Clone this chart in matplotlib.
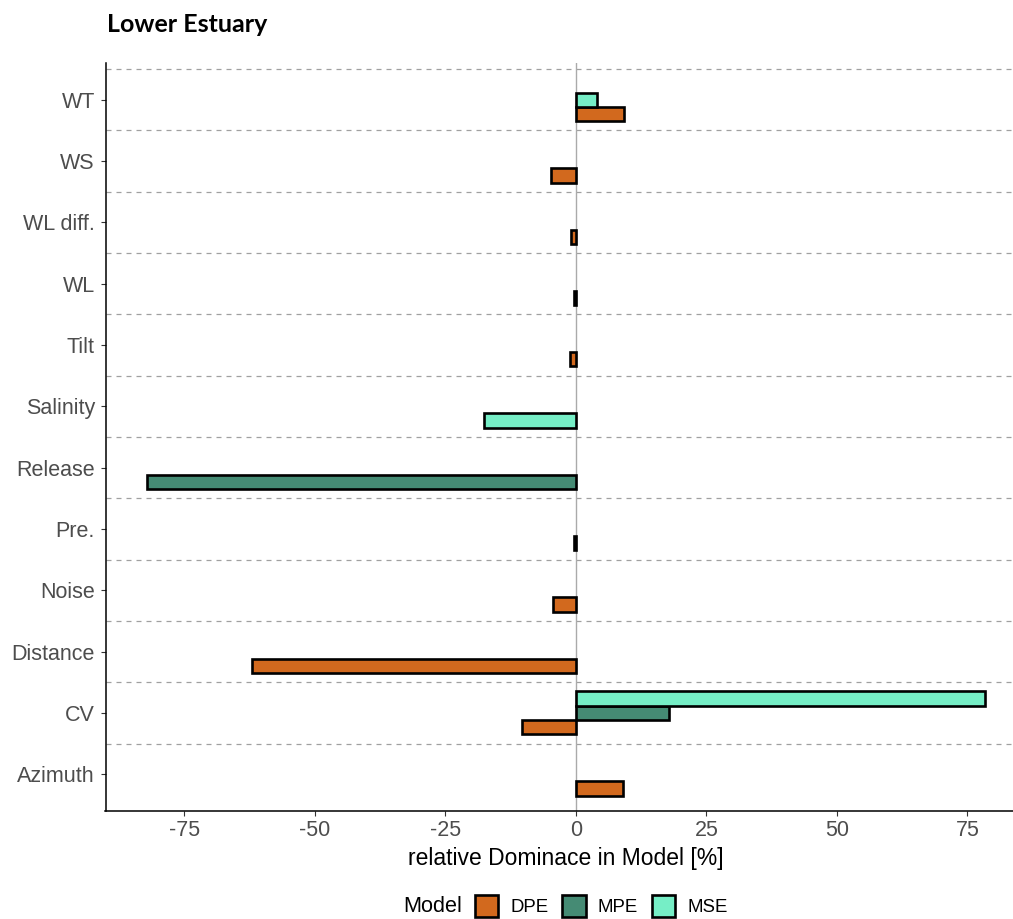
import numpy as np
import matplotlib
matplotlib.use("Agg")
import matplotlib.pyplot as plt
from matplotlib.patches import Patch

# ---- data ----
categories = ["Azimuth", "CV", "Distance", "Noise", "Pre.", "Release",
              "Salinity", "Tilt", "WL", "WL diff.", "WS", "WT"]
models = ["DPE", "MPE", "MSE"]
dpe = [9.1, -10.3, -62.0, -4.3, -0.3, None, None, -1.1, -0.3, -1.0, -4.7, 9.3]
mpe = [None, 17.9, None, None, None, -82.1, None, None, None, None, None, None]
mse = [None, 78.4, None, None, None, None, -17.6, None, None, None, None, 4.1]
series = {"DPE": dpe, "MPE": mpe, "MSE": mse}
colors = {"DPE": "#D2691E", "MPE": "#458B74", "MSE": "#76EEC6"}

plt.rcParams['font.family'] = ['Liberation Sans', 'DejaVu Sans']

W, H = 1013, 919
fig = plt.figure(figsize=(W / 100, H / 100), dpi=100)
left_px, right_px, top_px, bot_px = 105.5, 1027, 63, 811
ax = fig.add_axes([left_px / W, 1 - bot_px / H,
                   (right_px - left_px) / W, (bot_px - top_px) / H])

n_models = len(models)
dodge_w = 0.7
h = dodge_w / n_models
ypos = np.arange(1, len(categories) + 1)

# position_dodge(preserve="single"): present bars fill slots from the bottom
for i, cat in enumerate(categories):
    k = 0
    for m in models:
        v = series[m][i]
        if v is None:
            continue
        yc = ypos[i] - dodge_w / 2 + h / 2 + k * h
        ax.barh(yc, v, height=h, color=colors[m], edgecolor="black",
                linewidth=1.9, zorder=3)
        k += 1

# zero line
ax.axvline(0, color="#aaaaaa", linewidth=1.0, zorder=2)
# dashed separators
for yb in np.arange(1.5, len(categories) + 1, 1.0):
    ax.axhline(yb, color="#a0a0a0", linewidth=0.9, linestyle=(0, (4, 4)), zorder=1)

allvals = [v for s in series.values() for v in s if v is not None] + [0]
lo, hi = min(allvals), max(allvals)
span = hi - lo
ax.set_xlim(lo - 0.05 * span, hi + 0.05 * span)
ax.set_ylim(0.4, len(categories) + 0.6)

ax.set_yticks(ypos)
ax.set_yticklabels(categories)
ax.set_xticks([-75, -50, -25, 0, 25, 50, 75])
ax.set_xticklabels(["-75", "-50", "-25", "0", "25", "50", "75"])
ax.tick_params(axis="both", labelsize=15.5, labelcolor="#4D4D4D", color="#333333",
               length=3.6, width=0.8, pad=3)
ax.tick_params(axis="y", pad=4)
for s in ["top", "right"]:
    ax.spines[s].set_visible(False)
for s in ["left", "bottom"]:
    ax.spines[s].set_linewidth(1.1)
    ax.spines[s].set_color("black")

ax.set_xlabel("relative Dominace in Model [%]", fontsize=16.5, color="black", labelpad=4)

# title
fig.text(107 / W, 1 - 25 / H, "Lower Estuary", fontsize=18, fontweight="bold",
         family=["Lato", "DejaVu Sans"], ha="left", va="center")

# legend
fig.text(403 / W, 1 - 906 / H, "Model", fontsize=15.6, ha="left", va="center")
handles = [Patch(facecolor=colors[m], edgecolor="black", linewidth=1.9) for m in models]
leg = fig.legend(handles, models, loc="center left", bbox_to_anchor=(475 / W, 1 - 906 / H),
                 ncol=3, frameon=False, fontsize=13.4, handlelength=1.25, handleheight=1.45,
                 handletextpad=0.65, columnspacing=0.75, borderpad=0.0, borderaxespad=0)

fig.savefig("out.png", dpi=100)
